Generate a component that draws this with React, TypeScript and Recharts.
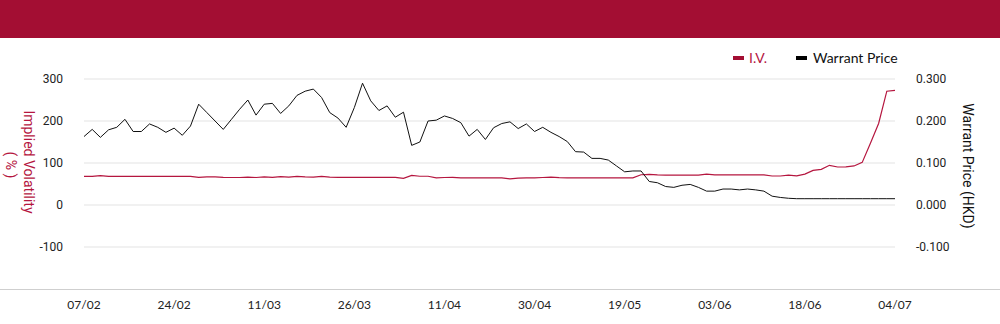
import React from "react";
import { LineChart, Line, XAxis, YAxis, CartesianGrid } from "recharts";

const dates: string[] = [
  "07/02", "10/02", "11/02", "12/02", "13/02", "14/02", "17/02", "18/02", "19/02", "20/02",
  "21/02", "24/02", "25/02", "26/02", "27/02", "28/02", "03/03", "04/03", "05/03", "06/03",
  "07/03", "10/03", "11/03", "12/03", "13/03", "14/03", "17/03", "18/03", "19/03", "20/03",
  "21/03", "24/03", "25/03", "26/03", "27/03", "28/03", "31/03", "01/04", "02/04", "03/04",
  "07/04", "08/04", "09/04", "10/04", "11/04", "14/04", "15/04", "16/04", "17/04", "22/04",
  "23/04", "24/04", "25/04", "28/04", "29/04", "30/04", "02/05", "06/05", "07/05", "08/05",
  "09/05", "12/05", "13/05", "14/05", "15/05", "16/05", "19/05", "20/05", "21/05", "22/05",
  "23/05", "26/05", "27/05", "28/05", "29/05", "30/05", "02/06", "03/06", "04/06", "05/06",
  "06/06", "09/06", "10/06", "11/06", "12/06", "13/06", "16/06", "17/06", "18/06", "19/06",
  "20/06", "23/06", "24/06", "25/06", "26/06", "27/06", "30/06", "02/07", "03/07", "04/07",
];

const ivValues: number[] = [
  68, 68, 70, 68, 68, 68, 68, 68, 68, 68,
  68, 68, 68, 68, 66, 67, 67, 66, 65.5, 65.5,
  66.5, 65.5, 67, 66, 67.5, 66.5, 68, 67, 66.5, 68,
  66.5, 66, 66, 66, 66, 66, 66, 66, 66, 63.5,
  70.5, 68.5, 68.5, 64.5, 65.5, 66, 64.5, 64.5, 64.5, 64.5,
  64.5, 64.5, 62, 64, 64.5, 64.5, 65.5, 66.5, 65, 64.5,
  64.5, 64.5, 64.5, 64.5, 64.5, 64.5, 64.5, 64.5, 72, 73,
  71.5, 71, 71, 71, 71, 71, 73.5, 71.5, 71.5, 71.5,
  71.5, 71.5, 71.5, 71.5, 69, 69, 71, 69.5, 73.5, 82.5,
  85, 94.5, 90.5, 91, 93, 101.5, 147, 194, 271, 273,
];

const priceValues: number[] = [
  0.163, 0.18, 0.161, 0.179, 0.185, 0.204, 0.175, 0.175, 0.193, 0.185,
  0.173, 0.183, 0.166, 0.188, 0.24, 0.22, 0.2, 0.18, 0.204, 0.228,
  0.25, 0.214, 0.24, 0.242, 0.218, 0.236, 0.261, 0.271, 0.276, 0.256,
  0.22, 0.207, 0.185, 0.232, 0.29, 0.248, 0.225, 0.236, 0.209, 0.221,
  0.142, 0.15, 0.2, 0.202, 0.212, 0.206, 0.196, 0.164, 0.18, 0.156,
  0.184, 0.194, 0.198, 0.182, 0.193, 0.175, 0.185, 0.173, 0.163, 0.151,
  0.127, 0.126, 0.111, 0.111, 0.107, 0.093, 0.079, 0.081, 0.081, 0.056,
  0.053, 0.044, 0.042, 0.047, 0.049, 0.042, 0.033, 0.033, 0.038, 0.038,
  0.036, 0.038, 0.036, 0.033, 0.021, 0.018, 0.016, 0.015, 0.015, 0.015,
  0.015, 0.015, 0.015, 0.015, 0.015, 0.015, 0.015, 0.015, 0.015, 0.015,
];

const leftTicks: number[] = [-100, 0, 100, 200, 300];
const rightTicks: number[] = [-0.1, 0, 0.1, 0.2, 0.3];
const gridTicks: number[] = [-100, 0, 100, 200, 300];

const RED = "#B5163F";
const HEADER = "#A30E33";

const data = dates.map((d, i) => ({ date: d, iv: ivValues[i], price: priceValues[i] }));

const renderLeftLabel = () => (
  <g>
    <text
      x={29}
      y={162}
      transform="rotate(90, 29, 162)"
      textAnchor="middle"
      dominantBaseline="central"
      fill={RED}
      fontSize={14}
      fontFamily="Roboto"
    >
      Implied Volatility
    </text>
    <text
      x={11}
      y={165}
      transform="rotate(90, 11, 165)"
      textAnchor="middle"
      dominantBaseline="central"
      fill={RED}
      fontSize={14}
      fontFamily="Roboto"
    >
      ( % )
    </text>
  </g>
);

const renderRightLabel = () => (
  <text
    x={968}
    y={166}
    transform="rotate(90, 968, 166)"
    textAnchor="middle"
    dominantBaseline="central"
    fill="#111"
    fontSize={14}
    fontFamily="Roboto"
  >
    Warrant Price (HKD)
  </text>
);

export default function App() {
  return (
    <div style={{ position: "absolute", left: 0, top: 0, width: 1000, height: 324, background: "#fff" }}>
      <style>{`body{margin:0}`}</style>
      <div style={{ position: "absolute", left: 0, top: 0, width: 1000, height: 38, background: HEADER }} />
      <div style={{ position: "absolute", left: 0, top: 289, width: 1000, height: 1, background: "#cfcfcf" }} />
      <div
        style={{
          position: "absolute",
          left: 733,
          top: 49,
          display: "flex",
          alignItems: "center",
          fontFamily: "Lato",
          fontSize: 14,
          lineHeight: "18px",
        }}
      >
        <span style={{ display: "inline-block", width: 11, height: 4, background: HEADER, marginRight: 5 }} />
        <span style={{ color: RED, marginRight: 29 }}>I.V.</span>
        <span style={{ display: "inline-block", width: 11, height: 4, background: "#000", marginRight: 6 }} />
        <span style={{ color: "#111" }}>Warrant Price</span>
      </div>
      <div style={{ position: "absolute", left: 0, top: 0 }}>
        <LineChart
          width={1000}
          height={324}
          data={data}
          margin={{ top: 79, right: 45, bottom: 5, left: 24 }}
        >
          <CartesianGrid horizontal vertical={false} stroke="#e3e3e3" yAxisId="left" horizontalValues={gridTicks} />
          <XAxis
            dataKey="date"
            interval={10}
            axisLine={false}
            tickLine={false}
            tickSize={0}
            tickMargin={11}
            height={30}
            tick={{ fill: "#222", fontSize: 12, fontFamily: "Lato" }}
          />
          <YAxis
            yAxisId="left"
            orientation="left"
            domain={[-200, 300]}
            ticks={leftTicks}
            width={60}
            axisLine={false}
            tickLine={false}
            tickSize={0}
            tickMargin={21}
            tick={{ fill: "#222", fontSize: 12, fontFamily: "Roboto" }}
            label={renderLeftLabel}
          />
          <YAxis
            yAxisId="right"
            orientation="right"
            domain={[-0.2, 0.3]}
            ticks={rightTicks}
            width={60}
            axisLine={false}
            tickLine={false}
            tickSize={0}
            tickMargin={21}
            tickFormatter={(v: number) => v.toFixed(3)}
            tick={{ fill: "#222", fontSize: 12, fontFamily: "Roboto" }}
            label={renderRightLabel}
          />
          <Line
            yAxisId="left"
            type="linear"
            dataKey="iv"
            stroke={RED}
            strokeWidth={1.2}
            dot={false}
            isAnimationActive={false}
          />
          <Line
            yAxisId="right"
            type="linear"
            dataKey="price"
            stroke="#111"
            strokeWidth={1}
            dot={false}
            isAnimationActive={false}
          />
        </LineChart>
      </div>
    </div>
  );
}
